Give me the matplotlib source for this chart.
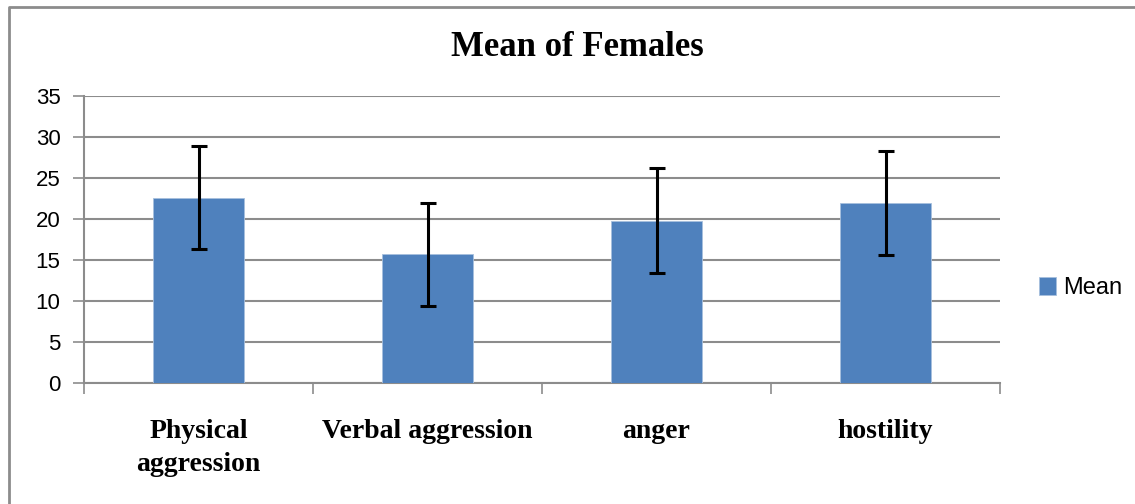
import matplotlib.pyplot as plt
import numpy as np

categories = ["Physical\naggression", "Verbal aggression", "anger", "hostility"]
means = [22.6, 15.7, 19.8, 22.0]
errors = [6.3, 6.3, 6.4, 6.35]
y_ticks = [0, 5, 10, 15, 20, 25, 30, 35]

fig = plt.figure(figsize=(11.35, 5.04), dpi=100)
ax = fig.add_axes([84 / 1135, 1 - 383 / 504, 916 / 1135, 287 / 504])

x = np.arange(len(categories))
ax.bar(x, means, width=0.4, color="#4f81bd", edgecolor="#a7c0de", linewidth=0.6,
       label="Mean", zorder=3)
ax.errorbar(x, means, yerr=errors, fmt="none", ecolor="black", elinewidth=2.2,
            capsize=6, capthick=2.2, zorder=4)

ax.set_xlim(-0.5, len(categories) - 0.5)
ax.set_ylim(0, 35)
ax.set_yticks(y_ticks)
ax.set_yticklabels([str(v) for v in y_ticks], fontfamily="Liberation Sans", fontsize=16)
ax.yaxis.grid(True, color="#8c8c8c", linewidth=1.5, zorder=0)
ax.set_axisbelow(True)

# category labels centred on bars, tick marks between categories
ax.set_xticks(x)
ax.set_xticklabels(categories, fontfamily="Liberation Serif", fontweight="bold",
                   fontsize=20, linespacing=1.4)
ax.tick_params(axis="x", length=0, pad=26)
ax.set_xticks(np.arange(-0.5, len(categories)), minor=True)
ax.tick_params(axis="x", which="minor", length=8, width=1.2, color="#8c8c8c")
ax.tick_params(axis="y", length=8, width=1.2, color="#8c8c8c", pad=9)

for s in ["top", "right"]:
    ax.spines[s].set_visible(False)
for s in ["left", "bottom"]:
    ax.spines[s].set_color("#8c8c8c")
    ax.spines[s].set_linewidth(1.5)

fig.text(577 / 1135, 1 - 47 / 504, "Mean of Females", ha="center", va="center",
         fontfamily="Liberation Serif", fontweight="bold", fontsize=25)

leg = ax.legend(loc="center left", bbox_to_anchor=(1.019, 0.33), frameon=False,
                prop={"family": "Liberation Sans", "size": 17},
                handlelength=0.75, handleheight=0.75, handletextpad=0.3)

# chart frame: only top and left edges are visible in the crop
fx, fy = 8.5 / 1135, 1 - 7 / 504
fig.add_artist(plt.Line2D([fx, fx, 1], [0, fy, fy], transform=fig.transFigure,
                          color="#8c8c8c", linewidth=2))

fig.savefig("out.png", dpi=100)
